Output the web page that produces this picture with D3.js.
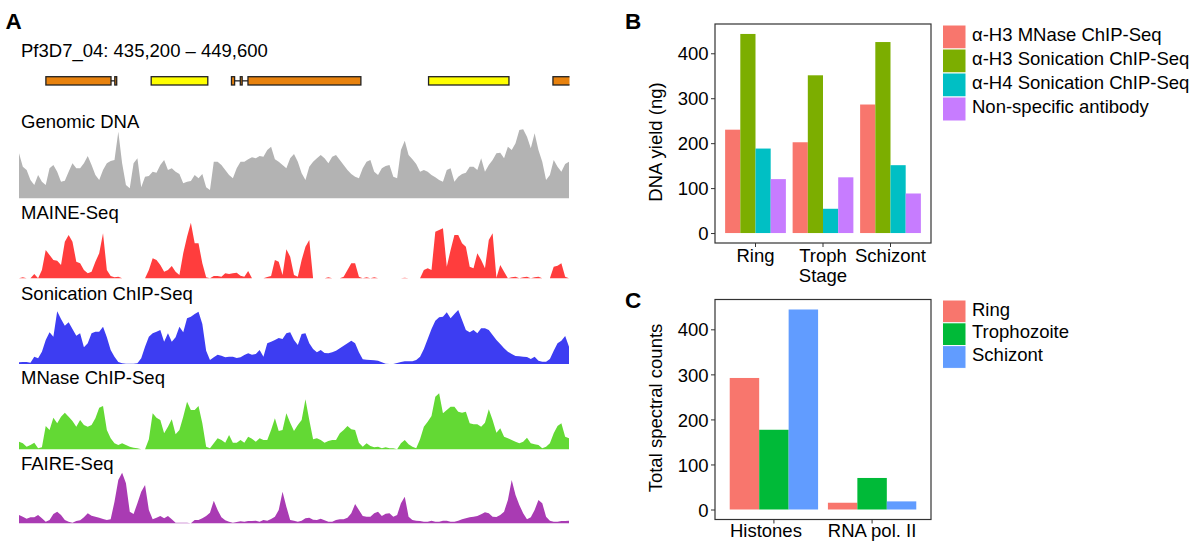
<!DOCTYPE html>
<html><head><meta charset="utf-8">
<script src="https://cdn.jsdelivr.net/npm/d3@7"></script>
<style>body{margin:0;background:#fff}</style>
</head><body><svg id="c" width="1200" height="549"></svg>
<script>
// ---------------- DATA ----------------
const chrom = "Pf3D7_04";
const regionStart = 435200, regionEnd = 449600, binSize = 100;

// coverage per 100 bp bin (relative units)
const genomicDNA = [135,95,85,55,40,70,50,40,90,100, 80,50,53,80,105,90,90,105,127,100,
 70,55,85,105,112,115,200,105,40,30, 105,120,33,65,67,80,77,100,115,85,
 90,80,73,45,50,52,70,60,73,33, 25,110,110,100,85,70,60,90,110,110,
 117,123,120,127,125,145,155,117,110,100, 90,120,133,110,75,55,95,110,120,130,
 120,105,125,130,115,100,85,73,65,60, 90,110,115,80,70,90,97,100,65,60,
 145,173,130,117,103,80,85,80,70,63, 55,50,85,90,50,65,73,77,95,95,
 85,120,80,100,115,135,137,120,155,145, 165,205,207,185,150,195,145,110,55,70,
 115,95,80,103,110];
const maineSeq = [0,3,0,0,13,0,25,85,70,55, 53,40,110,130,110,50,45,25,15,20,
 50,75,135,25,7,3,5,0,0,0, 0,0,0,0,25,60,55,40,20,25,
 37,20,10,75,125,167,105,105,45,3, 0,7,7,5,15,13,15,17,8,5,
 22,0,0,0,0,4,7,55,50,10, 87,65,10,5,55,95,115,0,0,0,
 0,3,0,0,0,5,25,45,45,5, 0,3,0,3,0,0,0,0,0,0,
 0,2,0,0,0,0,25,30,25,140, 145,150,35,85,130,130,105,95,35,30,
 75,55,30,115,135,2,40,20,0,3, 5,0,3,5,0,3,5,0,0,0,
 35,38,45,5,0];
const sonicationChIP = [5,6,6,4,22,17,37,72,95,82, 158,135,115,125,105,85,92,50,62,92,
 97,97,112,80,42,22,6,2,1,1, 1,2,17,52,82,92,97,102,67,92,
 67,80,112,95,137,142,150,157,120,40, 12,20,28,25,20,22,22,18,20,27,
 32,28,30,42,22,62,67,72,78,75, 92,95,72,57,90,92,62,45,35,42,
 33,32,35,40,47,55,62,70,62,35, 14,13,12,11,10,5,1,0,0,3,
 6,8,8,8,12,22,45,75,105,130, 140,142,155,137,150,162,132,102,95,102,
 92,107,107,102,87,72,60,47,37,30, 24,23,22,21,15,22,10,7,7,15,
 40,62,70,84,52];
const mnaseChIP = [23,18,8,13,20,3,6,70,58,95, 78,98,110,98,85,68,88,73,68,73,
 93,125,130,58,33,18,13,18,13,8, 5,3,0,0,30,108,95,88,48,68,
 90,45,58,98,143,118,118,130,78,8, 3,18,33,28,20,43,20,20,28,20,
 38,32,23,33,28,28,58,93,55,58, 108,80,55,73,88,150,88,30,33,28,
 20,25,28,28,48,58,70,60,58,20, 8,18,10,6,8,3,6,3,3,0,
 18,28,15,8,3,30,68,83,100,158, 168,108,118,128,128,113,110,113,78,75,
 75,68,80,120,88,50,63,38,33,28, 23,18,23,35,18,15,13,3,8,18,
 48,70,78,38,33];
const faireSeq = [25,20,14,18,18,25,15,5,10,28, 35,25,10,5,2,7,9,18,30,23,
 20,17,13,10,12,65,130,152,120,35, 28,60,95,115,40,12,17,22,15,22,
 12,2,2,2,2,0,10,10,15,22, 32,68,40,18,9,5,2,4,6,5,
 7,7,8,5,10,8,13,20,40,95, 50,10,8,5,8,15,17,11,10,14,
 9,5,5,10,12,12,17,30,58,40, 22,20,20,30,35,22,29,30,20,25,
 60,80,20,10,8,7,5,5,8,5, 5,8,8,5,5,8,12,15,18,20,
 22,27,33,30,20,19,25,35,70,130, 85,55,30,12,18,40,70,60,20,8,
 5,5,7,7,8];
const trackNames = ["Genomic DNA","MAINE-Seq","Sonication ChIP-Seq","MNase ChIP-Seq","FAIRE-Seq"];

// gene models
const exonStarts = [435904, 437708, 438661, 440763, 440994, 441195, 445923, 449180];
const exonEnds   = [437609, 437758, 440143, 440845, 441043, 444151, 448028, 449800];
const exonKinds  = ["orange","orange","yellow","orange","orange","orange","yellow","orange"];
const intronStarts = [437609, 440845];
const intronEnds   = [437708, 441195];

// Panel B
const stagesB = ["Ring","Troph","Schizont"];
const seriesB = ["α-H3 MNase ChIP-Seq","α-H3 Sonication ChIP-Seq","α-H4 Sonication ChIP-Seq","Non-specific antibody"];
const h3MnaseYield = [230, 202, 286];
const h3SonicationYield = [443, 351, 425];
const h4SonicationYield = [188, 54, 151];
const nonSpecificYield = [120, 124, 88];
const yTicksB = [0,100,200,300,400];

// Panel C
const groupsC = ["Histones","RNA pol. II"];
const stagesC = ["Ring","Trophozoite","Schizont"];
const ringCounts = [292, 15];
const trophozoiteCounts = [177, 70];
const schizontCounts = [444, 18];
const yTicksC = [0,100,200,300,400];

// ---------------- DRAW ----------------
const FONT = "'Liberation Sans', Arial, Helvetica, sans-serif";
const svg = d3.select("#c");
svg.append("rect").attr("width",1200).attr("height",549).attr("fill","#fff");

function txt(s, x, y, size, opts={}) {
  return svg.append("text").attr("x",x).attr("y",y).text(s)
    .attr("font-family",FONT).attr("font-size",size+"px")
    .attr("font-weight",opts.bold?"bold":"normal")
    .attr("text-anchor",opts.anchor||"start").attr("fill","#000");
}

// panel letters
txt("A", 5.5, 29.3, 22.5, {bold:true});
txt("B", 625, 29, 22.5, {bold:true});
txt("C", 625, 308.3, 22.5, {bold:true});

// ---- Panel A ----
const fmt = d3.format(",");
txt(`${chrom}: ${fmt(regionStart)} – ${fmt(regionEnd)}`, 21, 57.3, 18.5);

const gx = d3.scaleLinear().domain([regionStart, regionEnd]).range([19, 569]);

svg.append("clipPath").attr("id","trk").append("rect").attr("x",0).attr("y",0).attr("width",569.5).attr("height",549);
const geneG = svg.append("g").attr("clip-path","url(#trk)");
const geneTop = 76.7, geneH = 8.3;
geneG.selectAll("line.intron").data(intronStarts).join("line")
  .attr("x1",d=>gx(d)).attr("x2",(d,i)=>gx(intronEnds[i]))
  .attr("y1",geneTop+geneH/2).attr("y2",geneTop+geneH/2)
  .attr("stroke","#222").attr("stroke-width",1.3);
const exonFill = {orange:"#E8820E", yellow:"#FFFF00"};
geneG.selectAll("rect.exon").data(exonStarts).join("rect")
  .attr("x",d=>gx(d)).attr("width",(d,i)=>Math.max(0.8, gx(exonEnds[i])-gx(d)))
  .attr("y",geneTop).attr("height",geneH)
  .attr("fill",(d,i)=>exonFill[exonKinds[i]])
  .attr("stroke","#222").attr("stroke-width",1.3);

const trackData = [genomicDNA, maineSeq, sonicationChIP, mnaseChIP, faireSeq];
const trackColors = ["#B3B3B3","#FF3D3D","#3D3DF2","#63D934","#A93BB3"];
const trackBase = [198.3, 278.3, 364, 449.3, 523.3];
const labelBase = [128.3, 219.3, 300, 384, 470];

trackData.forEach((vals, t) => {
  const y = d3.scaleLinear().domain([0, 168]).range([trackBase[t], trackBase[t]-56]);
  const area = d3.area()
    .x((d,i) => gx(regionStart + i*binSize))
    .y0(trackBase[t]).y1(d => y(d))
    .curve(d3.curveLinear);
  svg.append("path").datum(vals).attr("d", area).attr("fill", trackColors[t]);
  txt(trackNames[t], 21, labelBase[t], 18.5);
});

// ---- Bar panels ----
function barPanel(o) {
  const g = svg.append("g");
  const maxV = d3.max(o.values.flat());
  const pad = maxV*0.05;
  const y = d3.scaleLinear().domain([-pad, maxV+pad]).range([o.bottom, o.top]);
  const x0 = d3.scaleBand().domain(o.categories).range([o.left, o.right]).paddingInner(0.1).paddingOuter(0.15);
  const x1 = d3.scaleBand().domain(o.series).range([0, x0.bandwidth()]);
  o.series.forEach((s, si) => {
    g.append("g").selectAll("rect").data(o.values[si]).join("rect")
      .attr("x",(d,i)=>x0(o.categories[i]) + x1(s))
      .attr("width", x1.bandwidth())
      .attr("y", d=>y(Math.max(0,d)))
      .attr("height", d=>Math.abs(y(0)-y(d)))
      .attr("fill", o.colors[si]);
  });
  g.append("rect").attr("x",o.left).attr("y",o.top).attr("width",o.right-o.left).attr("height",o.bottom-o.top)
    .attr("fill","none").attr("stroke","#333").attr("stroke-width",1.2);
  const ya = g.append("g").attr("transform",`translate(${o.left},0)`)
    .call(d3.axisLeft(y).tickValues(o.yTicks).tickSize(4).tickPadding(2.5));
  ya.select(".domain").remove();
  ya.selectAll("line").attr("stroke","#333");
  ya.selectAll("text").attr("font-size","18.5px").attr("font-family",FONT).attr("fill","#000").attr("dy","0.36em");
  const xa = g.append("g").attr("transform",`translate(0,${o.bottom})`)
    .call(d3.axisBottom(x0).tickSize(4).tickPadding(o.xPad));
  xa.select(".domain").remove();
  xa.selectAll("line").attr("stroke","#333");
  xa.selectAll("text").attr("font-size","18.5px").attr("font-family",FONT).attr("fill","#000")
    .attr("dx",(d,i)=>o.labelDx ? o.labelDx[i] : 0);
  if (o.xTitle) txt(o.xTitle, (o.left+o.right)/2, o.xTitleY, 18.5, {anchor:"middle"});
  svg.append("text").attr("transform",`translate(661.5,${o.yTitleY}) rotate(-90)`)
    .attr("text-anchor","middle").attr("font-family",FONT).attr("font-size","18.5px").attr("fill","#000")
    .text(o.yTitle);
  // legend
  const lg = svg.append("g");
  o.series.forEach((s, si) => {
    const ky = o.legendTop + si*o.keyH;
    lg.append("rect").attr("x",942.5).attr("y",ky).attr("width",23.5).attr("height",o.keyH)
      .attr("fill",o.colors[si]).attr("stroke","#fff").attr("stroke-width",1);
    lg.append("text").attr("x",972).attr("y",ky+o.keyH/2+4.2).text(s)
      .attr("font-family",FONT).attr("font-size","18.5px").attr("fill","#000");
  });
}

barPanel({
  categories: stagesB, series: seriesB,
  values: [h3MnaseYield, h3SonicationYield, h4SonicationYield, nonSpecificYield],
  colors: ["#F8766D","#7CAE00","#00BFC4","#C77CFF"],
  left: 715, right: 931, top: 24, bottom: 243, yTicks: yTicksB, xPad: 1.5,
  xTitle: "Stage", xTitleY: 282, yTitle: "DNA yield (ng)", yTitleY: 142,
  legendTop: 25, keyH: 24
});

barPanel({
  categories: groupsC, series: stagesC,
  values: [ringCounts, trophozoiteCounts, schizontCounts],
  colors: ["#F8766D","#00BA38","#619CFF"],
  left: 715, right: 931, top: 299.5, bottom: 519.5, yTicks: yTicksC, xPad: 0,
  labelDx: [-8, 0],
  yTitle: "Total spectral counts", yTitleY: 408,
  legendTop: 300, keyH: 22.8
});
</script>
</body></html>
